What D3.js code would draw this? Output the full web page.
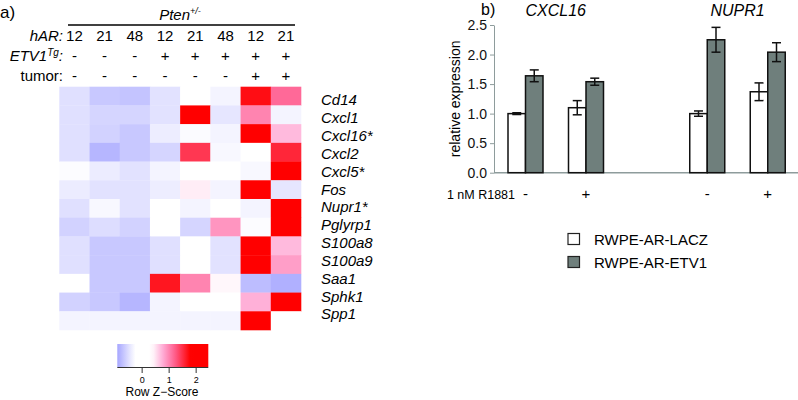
<!DOCTYPE html>
<html>
<head>
<meta charset="utf-8">
<script src="https://cdn.jsdelivr.net/npm/d3@7"></script>
<style>
body { margin: 0; background: #fff; }
svg { font-family: "Liberation Sans", Arial, sans-serif; }
</style>
</head>
<body>
<script>
// heatmap data (row z-scores)
var genes = ["Cd14", "Cxcl1", "Cxcl16*", "Cxcl2", "Cxcl5*", "Fos", "Nupr1*", "Pglyrp1", "S100a8", "S100a9", "Saa1", "Sphk1", "Spp1"];
var hAR = ["12", "21", "48", "12", "21", "48", "12", "21"];
var etv1 = ["-", "-", "-", "+", "+", "+", "+", "+"];
var tumor = ["-", "-", "-", "-", "-", "-", "+", "+"];
var zscores = [
  [-0.5, -0.67, -0.7, -0.48, 0.05, -0.35, 1.7, 1.15],
  [-0.5, -0.58, -0.58, -0.48, 2.2, -0.45, 1.0, -0.35],
  [-0.5, -0.6, -0.67, -0.4, -0.3, -0.35, 2.2, 0.7],
  [-0.5, -0.8, -0.67, -0.58, 1.45, -0.32, 0.0, 1.55],
  [-0.29, -0.41, -0.48, -0.35, 0.0, 0.0, -0.32, 2.2],
  [-0.41, -0.48, -0.48, -0.4, 0.45, -0.35, 2.2, -0.45],
  [-0.5, -0.32, -0.48, 0.0, -0.35, 0.0, -0.35, 2.2],
  [-0.6, -0.52, -0.6, 0.0, -0.58, 0.9, -0.29, 2.2],
  [-0.5, -0.67, -0.67, -0.5, 0.0, -0.48, 2.2, 0.7],
  [-0.5, -0.67, -0.67, -0.5, 0.0, -0.48, 2.2, 0.85],
  [0.0, -0.67, -0.67, 1.65, 1.0, 0.4, -0.75, -0.85],
  [-0.6, -0.67, -0.8, -0.35, 0.0, 0.0, 0.75, 2.2],
  [-0.35, -0.35, -0.35, -0.35, -0.35, -0.35, 2.2, 0.0]
];
var keyTicks = [0, 1, 2];

// bar chart data
var barGenes = ["CXCL16", "NUPR1"];
var treatments = ["-", "+"];
var series = ["RWPE-AR-LACZ", "RWPE-AR-ETV1"];
var lacz = [[1.0, 1.1], [1.0, 1.37]];      // [gene][treatment]
var laczErr = [[0.015, 0.12], [0.045, 0.15]];
var etv = [[1.64, 1.54], [2.25, 2.04]];
var etvErr = [[0.1, 0.06], [0.21, 0.16]];
var yTicks = [0, 0.5, 1, 1.5, 2, 2.5];

var svg = d3.select("body").append("svg")
    .attr("width", 798)
    .attr("height", 400);

// ---------- panel a ----------
var color = d3.scaleLinear()
    .domain([-0.92, -0.27, 0.36, 0.75, 1.2, 1.78, 2.45])
    .range(["#a6a6ff", "#ffffff", "#ffffff", "#ffb0d8", "#ff6090", "#ff0000", "#ff0000"])
    .clamp(true);

var cols = d3.range(hAR.length);
var x = d3.scaleBand().domain(cols).range([59.3, 301]);
var y = d3.scaleBand().domain(genes).range([86.7, 330]);

svg.append("text").attr("x", 0).attr("y", 18)
   .attr("font-size", 17).text("a)");

svg.append("text").attr("x", 180).attr("y", 20)
   .attr("text-anchor", "middle").attr("font-size", 15).attr("font-style", "italic")
   .text("Pten").append("tspan").attr("dy", -6).attr("font-size", 9).text("+/-");

svg.append("line").attr("x1", 68).attr("x2", 295).attr("y1", 25).attr("y2", 25)
   .attr("stroke", "#000").attr("stroke-width", 1.5);

var headRows = [
  {lab: "hAR:", vals: hAR, y: 41, italic: true},
  {lab: "ETV1", vals: etv1, y: 61, italic: true, sup: "Tg"},
  {lab: "tumor:", vals: tumor, y: 81, italic: false}
];
headRows.forEach(function(r) {
  var t = svg.append("text").attr("x", 63).attr("y", r.y)
     .attr("text-anchor", "end").attr("font-size", 15)
     .attr("font-style", r.italic ? "italic" : "normal");
  if (r.sup) {
    t.text(r.lab);
    t.append("tspan").attr("dy", -5).attr("font-size", 10).text(r.sup);
    t.append("tspan").attr("dy", 5).text(":");
  } else {
    t.text(r.lab);
  }
  svg.selectAll(null)
     .data(r.vals)
     .enter()
     .append("text")
     .attr("x", function(d, i) { return x(i) + x.bandwidth() / 2; })
     .attr("y", r.y)
     .attr("text-anchor", "middle")
     .attr("font-size", 15)
     .text(function(d) { return d; });
});

var cells = [];
zscores.forEach(function(row, r) {
  row.forEach(function(v, c) { cells.push({gene: genes[r], col: c, z: v}); });
});

svg.append("g").selectAll("rect")
   .data(cells)
   .enter()
   .append("rect")
   .attr("x", function(d) { return x(d.col); })
   .attr("y", function(d) { return y(d.gene); })
   .attr("width", x.bandwidth() + 0.3)
   .attr("height", y.bandwidth() + 0.3)
   .attr("fill", function(d) { return color(d.z); });

var labY = d3.scalePoint().domain(genes).range([100, 314]);
svg.append("g").selectAll("text")
   .data(genes)
   .enter()
   .append("text")
   .attr("x", 321)
   .attr("y", function(d) { return labY(d); })
   .attr("dy", "0.36em")
   .attr("font-size", 15)
   .attr("font-style", "italic")
   .text(function(d) { return d; });

// color key
var keyX = d3.scaleLinear().domain([-0.92, 2.45]).range([117.3, 208.3]);
var grad = svg.append("defs").append("linearGradient").attr("id", "keygrad");
d3.range(0, 1.0001, 0.05).forEach(function(t) {
  var z = keyX.invert(117.3 + t * 91);
  grad.append("stop").attr("offset", (t * 100) + "%").attr("stop-color", color(z));
});
svg.append("rect").attr("x", 117.3).attr("y", 344).attr("width", 91).attr("height", 23)
   .attr("fill", "url(#keygrad)");
svg.append("line").attr("x1", 117.3).attr("x2", 208.3).attr("y1", 367.5).attr("y2", 367.5)
   .attr("stroke", "#333").attr("stroke-width", 1);
svg.append("g").selectAll("line")
   .data(keyTicks)
   .enter()
   .append("line")
   .attr("x1", function(d) { return keyX(d); })
   .attr("x2", function(d) { return keyX(d); })
   .attr("y1", 367.5).attr("y2", 373)
   .attr("stroke", "#333");
svg.append("g").selectAll("text")
   .data(keyTicks)
   .enter()
   .append("text")
   .attr("x", function(d) { return keyX(d); })
   .attr("y", 383)
   .attr("text-anchor", "middle")
   .attr("font-size", 9)
   .text(function(d) { return d; });
svg.append("text").attr("x", 162).attr("y", 396).attr("text-anchor", "middle")
   .attr("font-size", 12).text("Row Z\u2212Score");

// ---------- panel b ----------
var grey = "#6f7f7c";
var yb = d3.scaleLinear().domain([0, 2.5]).range([172.7, 25]);
var xg = d3.scalePoint().domain(barGenes).range([555.75, 737.5]);
var xt = d3.scalePoint().domain(treatments).range([-30.25, 30.25]);
var xs = d3.scaleBand().domain(series).range([-17.5, 17.5]);

svg.append("text").attr("x", 481).attr("y", 15).attr("font-size", 16).text("b)");

var yAxis = svg.append("g")
   .attr("transform", "translate(494,0)")
   .call(d3.axisLeft(yb).tickValues(yTicks).tickFormat(d3.format(".1f")).tickSize(4).tickSizeOuter(0));
yAxis.select(".domain").attr("stroke", "#8e9c9c");
yAxis.selectAll(".tick line").attr("stroke", "#8e9c9c");
yAxis.selectAll(".tick text").attr("font-size", 14).attr("fill", "#111")
   .attr("font-family", "Liberation Sans, Arial, sans-serif");

svg.append("line").attr("x1", 494).attr("x2", 798).attr("y1", yb(0)).attr("y2", yb(0))
   .attr("stroke", "#8e9c9c").attr("stroke-width", 1.5);

svg.append("text")
   .attr("transform", "translate(460," + ((yb(0) + yb(2.5)) / 2) + ") rotate(-90)")
   .attr("text-anchor", "middle").attr("font-size", 14)
   .text("relative expression");

svg.selectAll(null)
   .data(barGenes)
   .enter()
   .append("text")
   .attr("x", function(d) { return xg(d); })
   .attr("y", 16)
   .attr("text-anchor", "middle")
   .attr("font-size", 16)
   .attr("font-style", "italic")
   .text(function(d) { return d; });

var bars = [];
barGenes.forEach(function(g, gi) {
  treatments.forEach(function(t, ti) {
    bars.push({gene: g, treat: t, s: series[0], v: lacz[gi][ti], e: laczErr[gi][ti]});
    bars.push({gene: g, treat: t, s: series[1], v: etv[gi][ti], e: etvErr[gi][ti]});
  });
});
function bx(d) { return xg(d.gene) + xt(d.treat) + xs(d.s); }

svg.append("g").selectAll("rect")
   .data(bars)
   .enter()
   .append("rect")
   .attr("x", bx)
   .attr("y", function(d) { return yb(d.v); })
   .attr("width", xs.bandwidth())
   .attr("height", function(d) { return yb(0) - yb(d.v); })
   .attr("fill", function(d) { return d.s === series[0] ? "#fff" : grey; })
   .attr("stroke", "#111")
   .attr("stroke-width", 1.5);

var err = svg.append("g").selectAll("g")
   .data(bars)
   .enter()
   .append("g")
   .attr("stroke", "#111")
   .attr("stroke-width", 1.5);
err.append("line")
   .attr("x1", function(d) { return bx(d) + xs.bandwidth() / 2; })
   .attr("x2", function(d) { return bx(d) + xs.bandwidth() / 2; })
   .attr("y1", function(d) { return yb(d.v + d.e); })
   .attr("y2", function(d) { return yb(d.v - d.e); });
[1, -1].forEach(function(sg) {
  err.append("line")
     .attr("x1", function(d) { return bx(d) + xs.bandwidth() / 2 - 4.5; })
     .attr("x2", function(d) { return bx(d) + xs.bandwidth() / 2 + 4.5; })
     .attr("y1", function(d) { return yb(d.v + sg * d.e); })
     .attr("y2", function(d) { return yb(d.v + sg * d.e); });
});

// treatment labels
var tl = [];
barGenes.forEach(function(g) { treatments.forEach(function(t) { tl.push({gene: g, treat: t}); }); });
svg.selectAll(null)
   .data(tl)
   .enter()
   .append("text")
   .attr("x", function(d) { return xg(d.gene) + xt(d.treat); })
   .attr("y", 199)
   .attr("text-anchor", "middle")
   .attr("font-size", 15)
   .text(function(d) { return d.treat; });
svg.append("text").attr("x", 515).attr("y", 199).attr("text-anchor", "end")
   .attr("font-size", 12.5).text("1 nM R1881");

// legend
var leg = svg.append("g").selectAll("g")
   .data(series)
   .enter()
   .append("g")
   .attr("transform", function(d, i) { return "translate(568," + (233.5 + i * 23) + ")"; });
leg.append("rect")
   .attr("width", 11.5).attr("height", 11)
   .attr("fill", function(d, i) { return i === 0 ? "#fff" : grey; })
   .attr("stroke", "#222").attr("stroke-width", 1.2);
leg.append("text")
   .attr("x", 26).attr("y", 11)
   .attr("font-size", 15)
   .text(function(d) { return d; });
</script>
</body>
</html>
